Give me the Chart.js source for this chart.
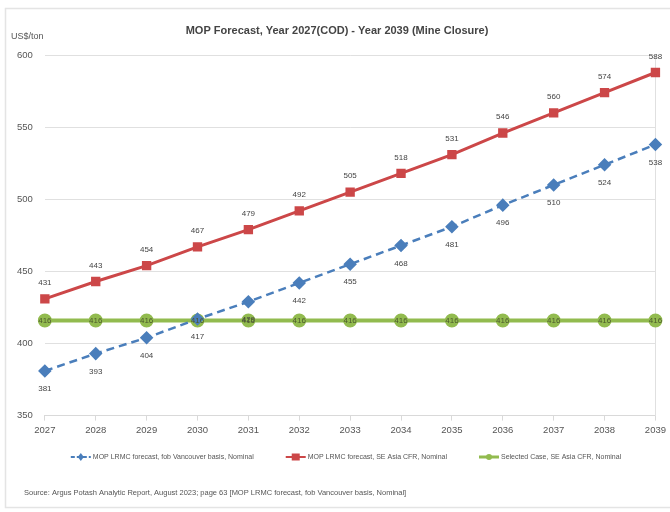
<!DOCTYPE html>
<html>
<head>
<meta charset="utf-8">
<script src="https://cdn.jsdelivr.net/npm/chart.js@4.4.1/dist/chart.umd.min.js"></script>
<style>
  body { margin: 0; background: #fff; }
  #wrap { width: 670px; height: 512px; }
</style>
</head>
<body>
<div id="wrap"><canvas id="mopChart" width="670" height="512"></canvas></div>
<script>
// values
const years = ['2027', '2028', '2029', '2030', '2031', '2032', '2033', '2034', '2035', '2036', '2037', '2038', '2039'];
const fobVancouver = [381, 393, 404, 417, 429, 442, 455, 468, 481, 496, 510, 524, 538];
const seAsiaCfr = [431, 443, 454, 467, 479, 492, 505, 518, 531, 546, 560, 574, 588];
const selectedCase = [416, 416, 416, 416, 416, 416, 416, 416, 416, 416, 416, 416, 416];
const yTicks = [350, 400, 450, 500, 550, 600];

const FONT = "'Liberation Sans', Arial, sans-serif";
const BLUE = '#4a7ebb';
const RED = '#cc4748';
const GREEN = '#92bb4f';

// Excel-style point labels: red above, blue below, green on the point
const dataLabels = {
  id: 'dataLabels',
  afterDatasetsDraw(chart) {
    const ctx = chart.ctx;
    ctx.save();
    ctx.font = '8px ' + FONT;
    ctx.textAlign = 'center';
    ctx.textBaseline = 'middle';
    chart.data.datasets.forEach((ds, i) => {
      const meta = chart.getDatasetMeta(i);
      meta.data.forEach((pt, j) => {
        let dy = 0;
        if (ds.labelPos === 'above') dy = -16;
        if (ds.labelPos === 'below') dy = 18;
        ctx.fillStyle = ds.labelColor;
        ctx.fillText(String(ds.data[j]), pt.x, pt.y + dy);
      });
    });
    ctx.restore();
  }
};

// legend with line + marker, drawn by hand so spacing matches
function drawLegendIcon(g, x, y, ds) {
  g.save();
  g.strokeStyle = ds.borderColor;
  g.lineWidth = ds.pointStyle === 'circle' ? 3 : 2;
  if (ds.borderDash) g.setLineDash([4, 2]);
  g.beginPath(); g.moveTo(x, y); g.lineTo(x + 20, y); g.stroke();
  g.setLineDash([]);
  g.fillStyle = ds.borderColor;
  g.beginPath();
  const cx = x + 10;
  if (ds.pointStyle === 'rectRot') {
    g.moveTo(cx, y - 4); g.lineTo(cx + 3, y); g.lineTo(cx, y + 4); g.lineTo(cx - 3, y);
  } else if (ds.pointStyle === 'rect') {
    g.rect(cx - 4, y - 3.5, 8, 7);
  } else {
    g.arc(cx, y, 3, 0, Math.PI * 2);
  }
  g.fill();
  g.restore();
}

const frameAndNotes = {
  id: 'frameAndNotes',
  beforeDraw(chart) {
    const ctx = chart.ctx;
    ctx.save();
    ctx.fillStyle = '#fff';
    ctx.fillRect(0, 0, chart.width, chart.height);
    ctx.strokeStyle = '#e4e4e4';
    ctx.lineWidth = 1.5;
    ctx.strokeRect(5.5, 8.5, 700, 499);
    ctx.restore();
  },
  afterDraw(chart) {
    const ctx = chart.ctx;
    ctx.save();
    ctx.fillStyle = '#555';
    ctx.textBaseline = 'middle';
    ctx.font = '9px ' + FONT;
    ctx.fillText('US$/ton', 11, 37);

    // legend row
    ctx.font = '7px ' + FONT;
    const gap = 32;
    const items = chart.data.datasets.map(ds => ({ ds, w: 22 + ctx.measureText(ds.label).width }));
    const total = items.reduce((s, it) => s + it.w, 0) + gap * (items.length - 1);
    let x = 346 - total / 2;
    const ly = 457;
    items.forEach(it => {
      drawLegendIcon(ctx, x, ly, it.ds);
      ctx.fillStyle = '#555';
      ctx.fillText(it.ds.label, x + 22, ly);
      x += it.w + gap;
    });

    ctx.font = '7.5px ' + FONT;
    ctx.fillText('Source: Argus Potash Analytic Report, August 2023; page 63 [MOP LRMC forecast, fob Vancouver basis, Nominal]', 24, 493);
    ctx.restore();
  }
};

const ctx = document.getElementById('mopChart').getContext('2d');
const mopChart = new Chart(ctx, {
  type: 'line',
  data: {
    labels: years,
    datasets: [{
      label: 'MOP LRMC forecast, fob Vancouver basis, Nominal',
      data: fobVancouver,
      borderColor: BLUE,
      backgroundColor: BLUE,
      borderWidth: 2.5,
      borderDash: [8, 5],
      pointStyle: 'rectRot',
      pointRadius: 5,
      labelPos: 'below',
      labelColor: '#444'
    }, {
      label: 'MOP LRMC forecast, SE Asia CFR, Nominal',
      data: seAsiaCfr,
      borderColor: RED,
      backgroundColor: RED,
      borderWidth: 3,
      pointStyle: 'rect',
      pointRadius: 4.5,
      labelPos: 'above',
      labelColor: '#444'
    }, {
      label: 'Selected Case, SE Asia CFR, Nominal',
      data: selectedCase,
      borderColor: GREEN,
      backgroundColor: GREEN,
      borderWidth: 4,
      pointStyle: 'circle',
      pointRadius: 5,
      labelPos: 'center',
      labelColor: '#4c5a2c'
    }]
  },
  options: {
    responsive: false,
    animation: false,
    layout: { padding: { left: 5, right: 1, top: 0, bottom: 72 } },
    scales: {
      x: {
        offset: false,
        grid: { display: true, drawOnChartArea: false, drawTicks: true, tickLength: 5, color: '#d9d9d9' },
        border: { color: '#d9d9d9' },
        ticks: { color: '#555', font: { family: FONT, size: 9.5 }, padding: 4, maxRotation: 0 }
      },
      y: {
        min: 350,
        max: 600,
        afterBuildTicks(axis) { axis.ticks = yTicks.map(v => ({ value: v })); },
        grid: { color: '#e0e0e0', drawTicks: false },
        border: { display: false },
        ticks: { color: '#555', font: { family: FONT, size: 9.5 }, padding: 12 }
      },
      y2: {
        position: 'right',
        min: 350,
        max: 600,
        grid: { display: false },
        border: { color: '#e0e0e0' },
        ticks: { display: false }
      }
    },
    plugins: {
      title: {
        display: true,
        text: 'MOP Forecast, Year 2027(COD) - Year 2039 (Mine Closure)',
        color: '#444',
        font: { family: FONT, size: 11, weight: 'bold' },
        padding: { top: 24, bottom: 18 }
      },
      legend: { display: false },
      tooltip: { enabled: false }
    }
  },
  plugins: [frameAndNotes, dataLabels]
});
</script>
</body>
</html>
